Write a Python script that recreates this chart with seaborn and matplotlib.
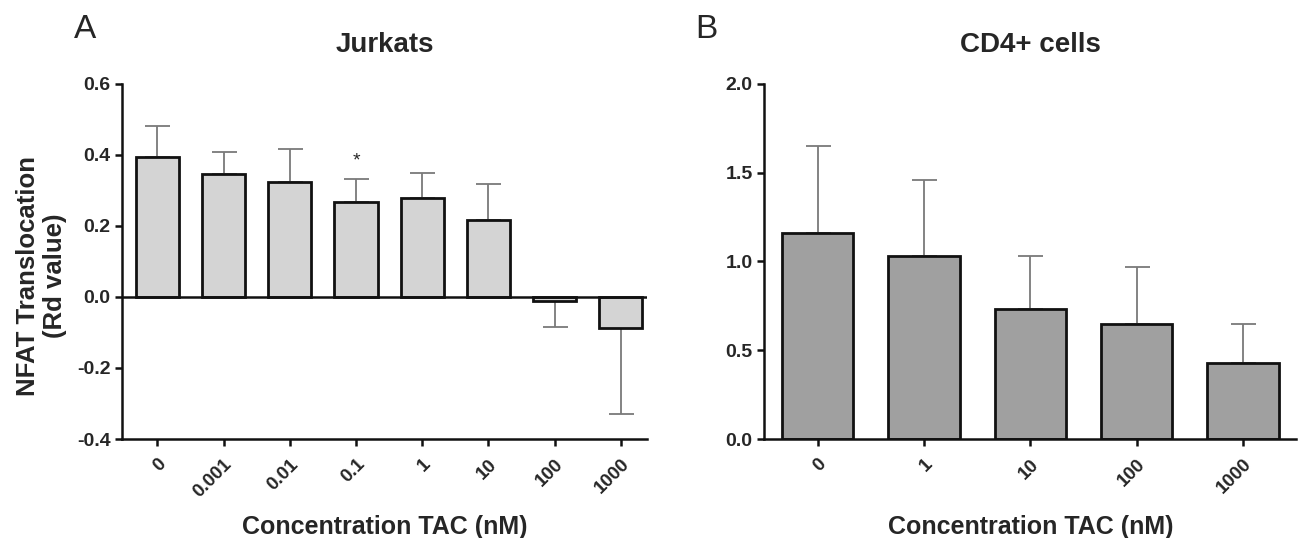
import numpy as np
import pandas as pd
import matplotlib
matplotlib.use('Agg')
import matplotlib.pyplot as plt
import seaborn as sns

# data
jurkat_conc = ['0', '0.001', '0.01', '0.1', '1', '10', '100', '1000']
jurkat_mean = [0.395, 0.345, 0.325, 0.267, 0.278, 0.217, -0.010, -0.088]
jurkat_err = [0.087, 0.063, 0.092, 0.064, 0.070, 0.100, 0.075, 0.242]

cd4_conc = ['0', '1', '10', '100', '1000']
cd4_mean = [1.16, 1.03, 0.735, 0.65, 0.43]
cd4_err = [0.49, 0.43, 0.295, 0.32, 0.22]

sns.set_theme(style='ticks')
plt.rcParams['font.family'] = ['Liberation Sans', 'DejaVu Sans']

fig = plt.figure(figsize=(13, 5.38), dpi=100)
axA = fig.add_axes([0.094, 0.184, 0.404, 0.66])
axB = fig.add_axes([0.588, 0.184, 0.409, 0.66])


def draw(ax, conc, mean, err, color, ylim, yticks, width):
    df = pd.DataFrame({'conc': conc, 'value': mean})
    sns.barplot(data=df, x='conc', y='value', order=conc, color=color,
                width=width, edgecolor='#111111', linewidth=2.0, saturation=1,
                errorbar=None, ax=ax, zorder=2)
    m = np.array(mean)
    e = np.array(err)
    # one-sided error bars, away from zero
    lower = np.where(m < 0, e, 0)
    upper = np.where(m >= 0, e, 0)
    ax.errorbar(np.arange(len(conc)), m, yerr=[lower, upper], fmt='none',
                ecolor='#7a7a7a', elinewidth=1.3, capsize=9, capthick=1.3, zorder=1)
    ax.set_ylim(*ylim)
    ax.set_yticks(yticks)
    ax.set_yticklabels([f'{t:.1f}' for t in yticks])
    sns.despine(ax=ax)
    for s in ['left', 'bottom']:
        ax.spines[s].set_linewidth(1.8)
        ax.spines[s].set_color('#111111')
    ax.tick_params(axis='both', width=1.8, length=5, color='#111111', labelsize=14)
    ax.tick_params(axis='x', pad=7, labelsize=13.5)
    for lab in ax.get_yticklabels():
        lab.set_fontweight('bold')
    for lab in ax.get_xticklabels():
        lab.set_fontweight('bold')
        lab.set_rotation(45)
        lab.set_ha('right')
        lab.set_rotation_mode('anchor')
    ax.set_xlabel('Concentration TAC (nM)', fontsize=18, fontweight='bold')
    ax.xaxis.set_label_coords(0.5, -0.215)
    ax.xaxis.label.set_va('top')


draw(axA, jurkat_conc, jurkat_mean, jurkat_err, '#d4d4d4', (-0.4, 0.6),
     [-0.4, -0.2, 0.0, 0.2, 0.4, 0.6], 0.65)
axA.set_xlim(-0.53, 7.4)
axA.axhline(0, color='#111111', lw=1.8, zorder=3)
axA.set_ylabel('NFAT Translocation\n(Rd value)', fontsize=18.5, fontweight='bold',
               linespacing=1.15)
axA.yaxis.set_label_coords(-0.105, 0.46)
axA.set_title('Jurkats', fontsize=20, fontweight='bold', pad=23)
axA.text(3, 0.383, '*', ha='center', va='center', fontsize=14)
fig.text(0.057, 0.93, 'A', fontsize=24)

draw(axB, cd4_conc, cd4_mean, cd4_err, '#a0a0a0', (0, 2.0),
     [0.0, 0.5, 1.0, 1.5, 2.0], 0.67)
axB.set_xlim(-0.5, 4.5)
axB.set_ylabel('')
axB.set_title('CD4+ cells', fontsize=20, fontweight='bold', pad=23)
fig.text(0.535, 0.93, 'B', fontsize=24)

fig.savefig('out.png', dpi=100)
